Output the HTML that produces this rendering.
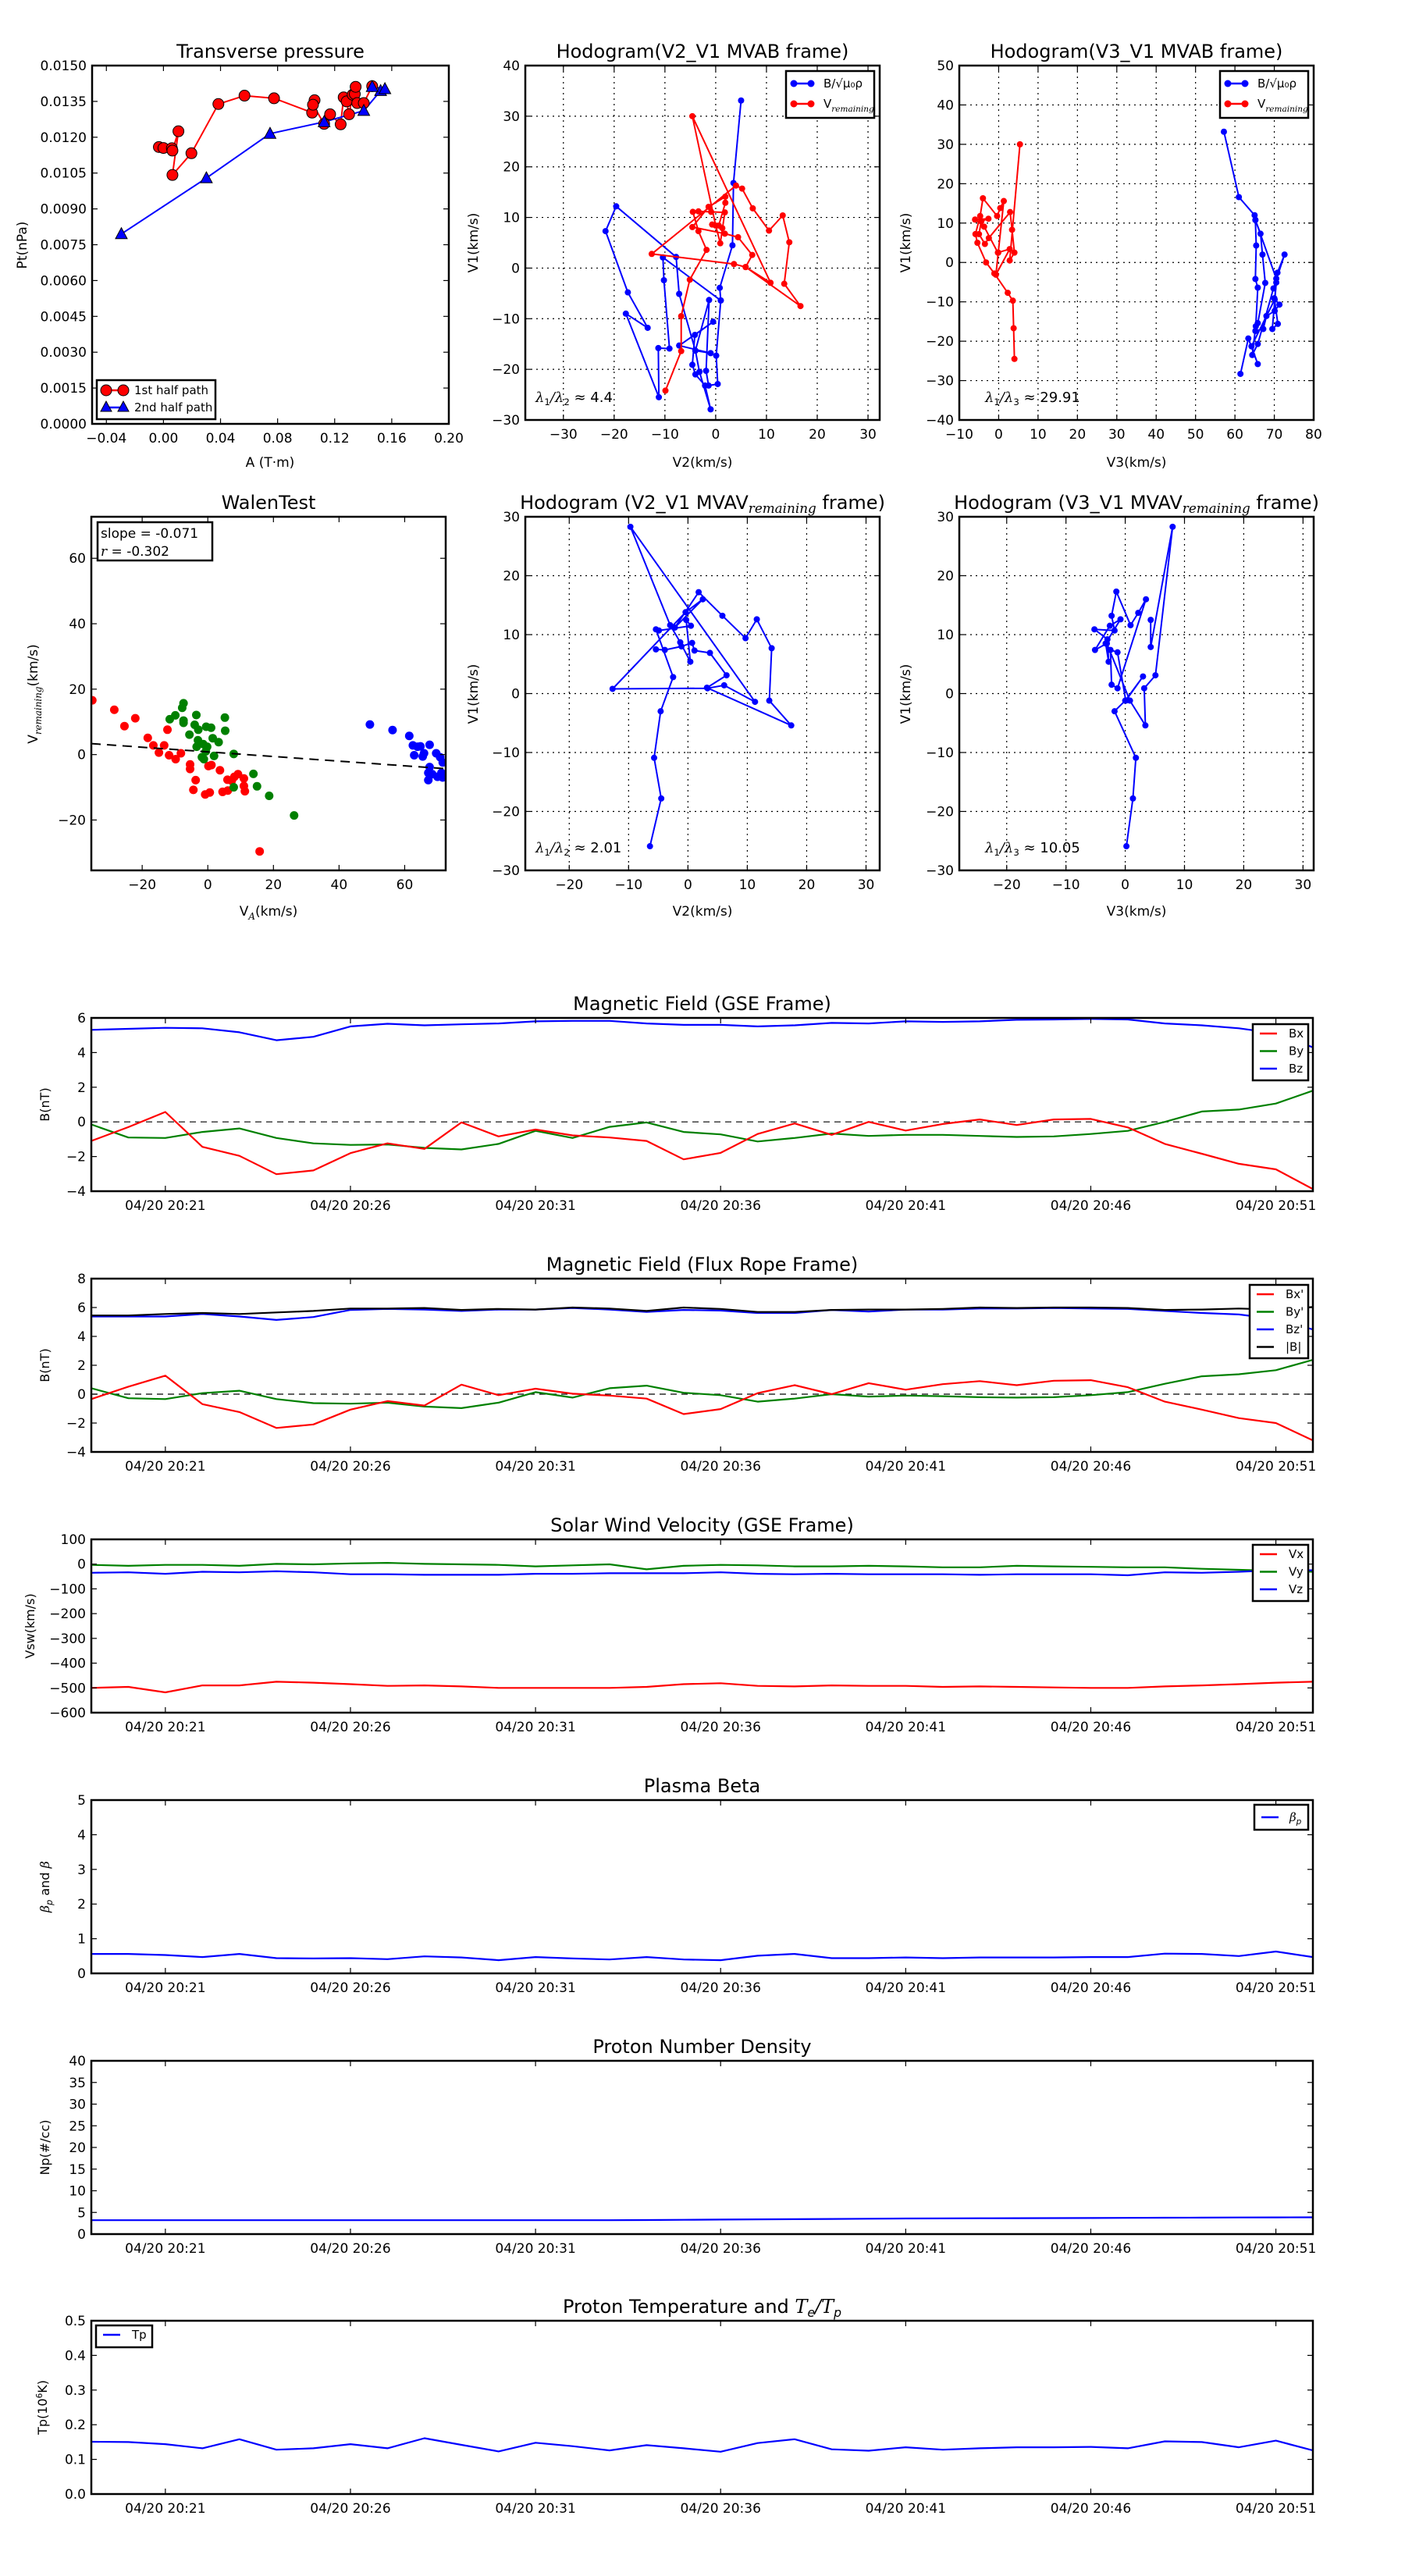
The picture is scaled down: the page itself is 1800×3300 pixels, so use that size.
<!DOCTYPE html>
<html><head><meta charset="utf-8"><style>
html,body{margin:0;padding:0;background:#fff}
svg{display:block;font-family:"DejaVu Sans","Liberation Sans",sans-serif}
</style></head><body>
<svg id="fig" width="1800" height="3300" viewBox="0 0 1800 3300" xmlns="http://www.w3.org/2000/svg"></svg>
<script>
// ---------- DATA ----------
const tpA1=[-0.0032,0.0,0.0059,0.0063,0.0105,0.0063,0.0196,0.0385,0.0568,0.0775,0.1042,0.1059,0.1048,0.1126,0.1168,0.1242,0.1263,0.1284,0.1301,0.1326,0.1341,0.1347,0.1358,0.1404,0.1463];
const tpP1=[0.01159,0.01155,0.01154,0.01144,0.01225,0.01042,0.01133,0.01339,0.01374,0.01363,0.01303,0.01355,0.01336,0.01256,0.01296,0.01254,0.01367,0.0135,0.01296,0.01378,0.01381,0.01411,0.01343,0.01343,0.01414];
const tpA2=[-0.0295,0.0301,0.0747,0.1126,0.1404,0.1522,0.1552,0.1463];
const tpP2=[0.00795,0.01029,0.01215,0.01264,0.01311,0.01394,0.01402,0.01411];

const h1BV2=[5.0,3.5,3.3,0.8,1.0,0.1,0.4,-1.4,-1.9,-1.3,-4.0,-1.0,-7.2,-0.5,-4.1,-4.6,-4.0,-2.1,-1.0,-3.2,-4.0,-7.2,-7.8,-19.6,-21.7,-17.3,-13.4,-17.7,-11.2,-11.3,-9.1,-10.2,-10.4,1.0];
const h1BV1=[33.1,16.8,4.5,-3.9,-6.4,-17.3,-22.9,-23.2,-20.3,-6.3,-16.3,-16.8,-15.3,-10.6,-13.2,-19.1,-21.0,-23.2,-27.9,-20.5,-16.3,-5.1,2.2,12.2,7.3,-4.8,-11.8,-9.0,-25.5,-15.8,-15.9,-2.4,2.1,-6.4];
const h1VV2=[-9.9,-6.8,-6.8,-5.1,-1.8,-3.4,-4.5,-3.4,-0.9,1.8,0.9,0,-4.6,10.8,5.9,3.6,-12.6,4.0,5.2,7.3,10.5,13.2,14.5,13.5,16.7,5.9,7.2,4.4,1.8,-4.6,-1.4,1.9,1.9,0.6,1.3,-0.7];
const h1VV1=[-24.2,-16.4,-9.5,-2.3,3.6,7.3,11.1,11.2,11.1,11.0,4.9,8.4,30.0,-2.9,0.2,0.8,2.8,16.3,15.7,11.8,7.4,10.4,5.1,-3.1,-7.5,0.2,2.6,6.1,6.8,8.1,12.1,14.1,12.9,8.4,7.9,8.6];

const h3BV3=[57.2,61.0,65.0,65.2,66.5,67.0,67.7,65.8,65.2,67.2,68.0,70.1,71.3,70.0,70.9,69.5,70.5,70.8,72.6,69.8,65.8,64.4,65.3,65.8,65.2,65.4,65.2,70.5,70.1,64.2,65.8,63.4,61.4];
const h3BV1=[33.2,16.6,12.0,10.8,7.3,2.0,-5.2,-15.4,-17.4,-16.9,-13.6,-12.3,-10.7,-9.1,-15.6,-16.9,-5.1,-2.6,2.0,-6.6,-20.7,-23.5,-16.2,-6.4,-4.2,4.3,10.8,-4.1,-9.4,-21.3,-25.8,-19.3,-28.3];
const h3VV3=[4.0,3.8,3.6,2.3,-1.1,-3.2,-5.4,-5.9,-4.7,-4.0,-0.4,0.4,1.3,-0.1,-0.7,2.8,-0.2,-3.7,-6.0,-2.6,-4.4,-5.0,-3.5,-2.5,2.9,3.4,4.0,2.8,5.4];
const h3VV1=[-24.5,-16.7,-9.7,-7.7,-2.8,0,5.0,7.2,11.8,16.3,11.8,13.8,15.6,2.5,-3.1,3.4,2.5,9.1,10.9,11.1,10.5,7.2,4.7,6.2,12.8,8.3,2.5,0.5,30.0];

const wRedX=[-35.2,-28.5,-25.4,-22.1,-18.3,-16.6,-14.9,-13.3,-12.3,-11.8,-9.8,-8.2,-5.4,-5.4,-3.7,-4.4,-0.8,0.6,0.2,1.1,3.7,4.5,6.1,6.0,8.1,9.2,11.0,11.0,11.3,15.8,7.3];
const wRedY=[16.6,13.7,8.7,11.1,5.1,2.8,0.6,2.8,7.6,-0.2,-1.4,0.4,-3.0,-4.4,-7.8,-10.8,-12.2,-11.6,-3.5,-3.2,-4.8,-11.4,-11.0,-7.7,-6.8,-6.0,-7.3,-9.6,-11.2,-29.6,-8.0];
const wGreenX=[-7.4,-7.8,-9.9,-11.6,-7.4,-7.4,-3.5,-4.0,-2.9,-5.6,-0.5,1.0,5.2,5.3,1.5,3.3,-3.0,-3.4,-1.4,-0.2,-0.6,-1.8,-1.2,1.9,7.9,13.9,7.9,15.0,18.7,26.3];
const wGreenY=[15.7,14.3,12.0,10.8,10.4,9.7,12.1,9.1,7.6,6.1,8.5,8.2,11.3,7.3,5.0,3.8,4.4,2.4,3.2,2.4,1.0,-0.8,-1.4,-0.4,0.2,-5.9,-10.0,-9.7,-12.6,-18.6];
const wBlueX=[49.4,56.3,61.4,62.5,64.8,67.6,62.9,65.5,69.6,70.8,71.6,67.6,67.2,67.2,70.0,71.6,71.2,68.4,65.9,63.9];
const wBlueY=[9.2,7.5,5.7,2.8,2.5,3.0,-0.2,-0.6,0.4,-0.8,-2.4,-3.8,-5.6,-7.8,-6.8,-7.0,-5.6,-6.0,0.4,2.4];
const wSlope=-0.071, wIntercept=0.83;

const h2V2=[-6.4,-4.5,-5.7,-4.6,-2.5,-5.4,-4.9,0.5,-0.3,0.4,-1.3,-3.0,-9.7,11.3,6.1,3.3,-12.7,-0.4,2.5,-2.2,1.8,5.8,9.7,11.6,14.1,13.7,17.4,3.2,6.5,3.7,1.1,0.7,-1.1,-3.9,-5.4];
const h2V1=[-25.9,-17.8,-10.9,-3.0,2.8,10.9,10.7,11.5,12.5,5.4,8.7,11.6,28.3,-1.4,1.4,0.9,0.8,13.8,16.0,11.2,17.2,13.2,9.4,12.6,7.7,-1.2,-5.4,1.0,3.1,6.9,7.3,8.6,8.0,7.4,7.5];
const h4V3=[4.3,4.3,8.0,5.1,3.2,3.4,0.8,-3.1,-5.1,-2.6,-0.8,-3.3,-2.8,-3.0,-5.2,-1.8,-2.3,-1.5,0.9,2.2,3.5,-1.3,-2.3,-2.5,-1.3,0.1,3.0,0,-1.8,1.8,1.3,0.2];
const h4V1=[12.5,7.9,28.3,3.1,0.9,-5.4,-1.2,8.5,7.4,11.5,12.6,8.5,5.4,9.2,10.9,10.7,13.2,17.3,11.6,13.7,16.0,0.9,1.5,7.4,7.0,-1.2,2.9,-1.2,-3.0,-10.9,-17.8,-25.9];

const times=[-2,-1,0,1,2,3,4,5,6,7,8,9,10,11,12,13,14,15,16,17,18,19,20,21,22,23,24,25,26,27,28,29,30,31];
const timeTickVals=[0,5,10,15,20,25,30];
const timeTickLabels=["04/20 20:21","04/20 20:26","04/20 20:31","04/20 20:36","04/20 20:41","04/20 20:46","04/20 20:51"];

const bxGse=[-1.1,-0.3,0.57,-1.44,-1.96,-3.02,-2.8,-1.8,-1.24,-1.56,-0.03,-0.84,-0.44,-0.78,-0.9,-1.1,-2.16,-1.79,-0.7,-0.09,-0.75,0,-0.5,-0.12,0.14,-0.18,0.14,0.17,-0.32,-1.27,-1.84,-2.42,-2.74,-3.88];
const byGse=[-0.15,-0.9,-0.93,-0.58,-0.38,-0.93,-1.24,-1.33,-1.3,-1.5,-1.59,-1.27,-0.52,-0.93,-0.29,-0.03,-0.58,-0.72,-1.13,-0.93,-0.67,-0.81,-0.75,-0.75,-0.81,-0.87,-0.84,-0.7,-0.52,0,0.6,0.71,1.06,1.8];
const bzGse=[5.31,5.37,5.43,5.4,5.17,4.71,4.91,5.51,5.66,5.57,5.63,5.68,5.8,5.83,5.83,5.68,5.6,5.6,5.51,5.57,5.71,5.68,5.8,5.77,5.8,5.89,5.91,5.94,5.91,5.68,5.57,5.4,5.11,4.3];
const bxFr=[-0.34,0.52,1.28,-0.69,-1.24,-2.34,-2.1,-1.07,-0.48,-0.79,0.66,-0.07,0.38,0.03,-0.1,-0.31,-1.38,-1.03,0.07,0.62,0,0.76,0.31,0.69,0.9,0.62,0.93,0.97,0.48,-0.52,-1.07,-1.66,-2,-3.2];
const byFr=[0.41,-0.28,-0.34,0.07,0.24,-0.34,-0.62,-0.66,-0.59,-0.86,-0.97,-0.59,0.14,-0.24,0.41,0.59,0.1,-0.07,-0.52,-0.31,0,-0.17,-0.1,-0.14,-0.21,-0.24,-0.21,-0.07,0.14,0.72,1.24,1.38,1.66,2.38];
const bzFr=[5.38,5.38,5.38,5.55,5.38,5.14,5.34,5.83,5.9,5.86,5.76,5.86,5.86,5.97,5.86,5.69,5.83,5.79,5.62,5.62,5.83,5.72,5.86,5.86,5.93,5.93,5.97,5.93,5.9,5.76,5.62,5.52,5.2,4.48];
const bMag=[5.45,5.45,5.55,5.62,5.55,5.66,5.76,5.93,5.93,5.97,5.83,5.9,5.86,6.0,5.93,5.76,6.0,5.9,5.69,5.69,5.83,5.86,5.86,5.9,6,5.97,6,6,5.97,5.83,5.86,5.93,5.86,6.03];
const vx=[-500,-496,-518,-490,-490,-475,-479,-485,-492,-490,-494,-500,-500,-500,-500,-496,-485,-481,-492,-494,-490,-492,-492,-496,-494,-496,-498,-500,-500,-494,-490,-485,-479,-475];
const vy=[-3,-7,-3,-3,-7,1,-1,3,5,1,-1,-3,-9,-5,-1,-21,-7,-3,-5,-9,-9,-7,-9,-13,-13,-7,-9,-11,-13,-13,-19,-23,-27,-31];
const vz=[-35,-33,-39,-31,-33,-29,-33,-41,-41,-43,-43,-43,-39,-39,-37,-37,-37,-33,-39,-41,-39,-41,-41,-41,-43,-41,-41,-41,-45,-33,-35,-31,-25,-25];
const betaP=[0.56,0.56,0.53,0.47,0.56,0.44,0.43,0.44,0.41,0.49,0.46,0.38,0.47,0.43,0.40,0.47,0.40,0.38,0.51,0.56,0.44,0.44,0.46,0.44,0.46,0.46,0.46,0.47,0.47,0.57,0.56,0.5,0.63,0.47];
const np=[3.2,3.2,3.2,3.2,3.2,3.2,3.2,3.2,3.2,3.2,3.2,3.2,3.2,3.2,3.2,3.25,3.3,3.35,3.4,3.45,3.5,3.55,3.6,3.62,3.65,3.68,3.7,3.72,3.75,3.78,3.8,3.83,3.85,3.88];
const tp=[0.151,0.150,0.144,0.132,0.158,0.128,0.132,0.144,0.132,0.161,0.142,0.123,0.148,0.138,0.126,0.141,0.132,0.122,0.147,0.158,0.129,0.125,0.135,0.128,0.132,0.135,0.135,0.136,0.132,0.152,0.150,0.135,0.154,0.126];

// ---------- HELPERS ----------
const NS="http://www.w3.org/2000/svg";
const fig=document.getElementById('fig');
const TICK=17, TITLE=24, ALAB=17, LEG=15;
function mk(tag,attrs,parent){const e=document.createElementNS(NS,tag);for(const k in attrs)e.setAttribute(k,attrs[k]);(parent||fig).appendChild(e);return e;}
function lin(d0,d1,r0,r1){return v=>r0+(v-d0)*(r1-r0)/(d1-d0);}
function txt(parent,x,y,s,size,anchor,name){const t=mk('text',{x:x,y:y,'font-size':size,'text-anchor':anchor||'middle',fill:'#000'},parent);t.textContent=s;


return t;}
function ticksFrom(a,b,s){const r=[];for(let v=a;v<=b+1e-9;v+=s)r.push(+v.toFixed(6));return r;}
function fmtNum(v){return v<0?'\u2212'+Math.abs(v):String(v);}

function axes(name,L,R,T,B,xd,yd,xt,yt,opt){
 opt=opt||{};
 const g=mk('g',{},fig);
 
 
 const sx=lin(xd[0],xd[1],L,R), sy=lin(yd[0],yd[1],B,T);
 const clipId='clip-'+name;
 const cp=mk('clipPath',{id:clipId},g);mk('rect',{x:L,y:T,width:R-L,height:B-T},cp);
 const plot=mk('g',{'clip-path':'url(#'+clipId+')'},g);
 
 
 if(opt.grid){
  xt.forEach(v=>{const l=mk('line',{x1:sx(v),x2:sx(v),y1:T,y2:B,stroke:'#000','stroke-width':1.2,'stroke-dasharray':'2,5'},plot);
  
  });
  yt.forEach(v=>{const l=mk('line',{x1:L,x2:R,y1:sy(v),y2:sy(v),stroke:'#000','stroke-width':1.2,'stroke-dasharray':'2,5'},plot);
  
  });
 }
 const xl=opt.xLabels||xt.map(v=>opt.xfmt?opt.xfmt(v):fmtNum(v));
 xt.forEach((v,i)=>{const x=sx(v);
  mk('line',{x1:x,x2:x,y1:B,y2:B-7,stroke:'#000','stroke-width':1.2},g);
  mk('line',{x1:x,x2:x,y1:T,y2:T+7,stroke:'#000','stroke-width':1.2},g);
  txt(g,x,B+24,xl[i],TICK,'middle','x-tick-label');});
 const yl=yt.map(v=>opt.yfmt?opt.yfmt(v):fmtNum(v));
 yt.forEach((v,i)=>{const y=sy(v);
  mk('line',{x1:L,x2:L+7,y1:y,y2:y,stroke:'#000','stroke-width':1.2},g);
  mk('line',{x1:R,x2:R-7,y1:y,y2:y,stroke:'#000','stroke-width':1.2},g);
  txt(g,L-7,y+6,yl[i],TICK,'end','y-tick-label');});
 const fr=mk('rect',{x:L,y:T,width:R-L,height:B-T,fill:'none',stroke:'#000','stroke-width':2.5},g);
 
 
 return {g,plot,sx,sy,L,R,T,B};
}
function polyline(ax,xs,ys,color,name,w){
 const pts=xs.map((x,i)=>ax.sx(x).toFixed(1)+','+ax.sy(ys[i]).toFixed(1)).join(' ');
 const p=mk('polyline',{points:pts,fill:'none',stroke:color,'stroke-width':w||2,'stroke-linejoin':'round'},ax.plot);
 
 
 return p;
}
function dots(ax,xs,ys,color,r,name,edge){
 xs.forEach((x,i)=>{const c=mk('circle',{cx:ax.sx(x),cy:ax.sy(ys[i]),r:r,fill:color,stroke:edge||'none','stroke-width':1},ax.plot);
 
 });
}
function tris(ax,xs,ys,color,name){
 xs.forEach((x,i)=>{const cx=ax.sx(x),cy=ax.sy(ys[i]);
 const p=mk('polygon',{points:`${cx},${cy-8} ${cx-7.5},${cy+6} ${cx+7.5},${cy+6}`,fill:color,stroke:'#000','stroke-width':1},ax.plot);
 
 });
}
function title(ax,s,name){return txt(fig,(ax.L+ax.R)/2,ax.T-10,s,TITLE,'middle',name||'chart-title');}
function ylab(x,y,s,name,size){const t=txt(fig,x,y,s,size||16,'middle',name||'y-axis-title');t.setAttribute('transform',`rotate(-90 ${x} ${y})`);return t;}
function legendBox(x,y,w,h,name){const r=mk('rect',{x:x,y:y,width:w,height:h,fill:'#fff',stroke:'#000','stroke-width':2.5},fig);
 
 }
function legendLine(x1,x2,y,color,label,tx,name,marker){
 const l=mk('line',{x1:x1,x2:x2,y1:y,y2:y,stroke:color,'stroke-width':2.5},fig);
 
 
 if(marker){[x1,x2].forEach(xx=>{const c=mk('circle',{cx:xx,cy:y,r:marker,fill:color},fig);
  
  });}
 const t=txt(fig,tx,y+5,label,LEG,'start',name+'-label');return t;
}
function mathSub(t,main,sub,italicMain){
 const a=mk('tspan',{},t);a.textContent=main;if(italicMain){a.setAttribute('font-style','italic');a.setAttribute('font-family','DejaVu Serif, serif');}
 const b=mk('tspan',{'font-size':'0.7em','font-style':'italic','font-family':'DejaVu Serif, serif',dy:5},t);b.textContent=sub;
 const c=mk('tspan',{dy:-5},t);c.textContent='';return c;
}

// ---------- ROW 1 ----------
{const ax=axes('transverse-pressure-chart',118,575,84,543,[-0.05,0.20],[0,0.015],ticksFrom(-0.04,0.20,0.04),ticksFrom(0,0.015,0.0015),
 {xfmt:v=>(v<0?'\u2212':'')+Math.abs(v).toFixed(2),yfmt:v=>v.toFixed(4)});
 title(ax,'Transverse pressure','transverse-pressure-title');
 polyline(ax,tpA1,tpP1,'#f00','first-half-path-line',2);
 polyline(ax,tpA2,tpP2,'#00f','second-half-path-line',2);
 dots(ax,tpA1,tpP1,'#f00',7,'first-half-point','#000');
 tris(ax,tpA2,tpP2,'#00f','second-half-point');
 txt(fig,346,598,'A (T\u00b7m)',ALAB,'middle','x-axis-title');
 ylab(34,314,'Pt(nPa)','y-axis-title',ALAB);
 legendBox(124,487,152,50,'legend');
 legendLine(136,158,500,'#f00','1st half path',172,'legend-1st-half',7);
 legendLine(136,158,522,'#00f','2nd half path',172,'legend-2nd-half');
 [136,158].forEach(xx=>{const p=mk('polygon',{points:`${xx},514 ${xx-7},527 ${xx+7},527`,fill:'#00f',stroke:'#000'},fig);
  
  });
 [136,158].forEach(xx=>{const c=mk('circle',{cx:xx,cy:500,r:7,fill:'#f00',stroke:'#000'},fig);
  
  });
}
function hodoLegend(x,name){
 legendBox(x,91,113,60,name);
 legendLine(x+10,x+32,107,'#00f','B/\u221a\u03bc\u2080\u03c1',x+48,name+'-b',4.5);
 const t2=legendLine(x+10,x+32,133,'#f00','',x+48,name+'-v',4.5);
 mathSub(t2,'V','remaining');
}
function lam(x,y,n,val,name){const t=txt(fig,x,y,'',18,'start',name);
 const a=mk('tspan',{'font-style':'italic','font-family':'DejaVu Serif, serif'},t);a.textContent='\u03bb';
 const b=mk('tspan',{'font-size':'0.65em',dy:4},t);b.textContent='1';
 const c=mk('tspan',{dy:-4,'font-style':'italic','font-family':'DejaVu Serif, serif'},t);c.textContent='/\u03bb';
 const d=mk('tspan',{'font-size':'0.65em',dy:4},t);d.textContent=n;
 const e=mk('tspan',{dy:-4},t);e.textContent=' \u2248 '+val;}
{const ax=axes('hodogram-v2-v1-mvab',673,1127,84,538,[-37.5,32.3],[-30,40],ticksFrom(-30,30,10),ticksFrom(-30,40,10),{grid:true});
 title(ax,'Hodogram(V2_V1 MVAB frame)','hodogram-v2-v1-mvab-title');
 polyline(ax,h1BV2,h1BV1,'#00f','b-alfven-path',2);dots(ax,h1BV2,h1BV1,'#00f',4,'b-alfven-point');
 polyline(ax,h1VV2,h1VV1,'#f00','v-remaining-path',2);dots(ax,h1VV2,h1VV1,'#f00',4,'v-remaining-point');
 txt(fig,900,598,'V2(km/s)',ALAB,'middle','x-axis-title');ylab(612,311,'V1(km/s)','y-axis-title',ALAB);
 hodoLegend(1007,'hodogram-1-legend');lam(686,515,'2','4.4','eigenvalue-ratio');}
{const ax=axes('hodogram-v3-v1-mvab',1229,1683,84,538,[-10,80],[-40,50],ticksFrom(-10,80,10),ticksFrom(-40,50,10),{grid:true});
 title(ax,'Hodogram(V3_V1 MVAB frame)','hodogram-v3-v1-mvab-title');
 polyline(ax,h3BV3,h3BV1,'#00f','b-alfven-path',2);dots(ax,h3BV3,h3BV1,'#00f',4,'b-alfven-point');
 polyline(ax,h3VV3,h3VV1,'#f00','v-remaining-path',2);dots(ax,h3VV3,h3VV1,'#f00',4,'v-remaining-point');
 txt(fig,1456,598,'V3(km/s)',ALAB,'middle','x-axis-title');ylab(1166,311,'V1(km/s)','y-axis-title',ALAB);
 hodoLegend(1563,'hodogram-2-legend');lam(1262,515,'3','29.91','eigenvalue-ratio');}

// ---------- ROW 2 ----------
{const ax=axes('walen-test-chart',117,571,662,1115,[-35.5,72.5],[-35.4,72.7],[-20,0,20,40,60],[-20,0,20,40,60]);
 title(ax,'WalenTest','walen-test-title');
 dots(ax,wRedX,wRedY,'#f00',5.5,'walen-red-point');
 dots(ax,wGreenX,wGreenY,'#008000',5.5,'walen-green-point');
 dots(ax,wBlueX,wBlueY,'#00f',5.5,'walen-blue-point');
 const fx=[-35.5,72.5];
 const fl=mk('line',{x1:ax.sx(fx[0]),y1:ax.sy(wSlope*fx[0]+wIntercept),x2:ax.sx(fx[1]),y2:ax.sy(wSlope*fx[1]+wIntercept),stroke:'#000','stroke-width':2,'stroke-dasharray':'12,8'},ax.plot);
 
 
 legendBox(125,669,147,49,'stats-box');
 txt(fig,129,689,'slope = -0.071',ALAB,'start','slope-text');
 const rt=txt(fig,129,712,'',ALAB,'start','r-text');const ri=mk('tspan',{'font-style':'italic','font-family':'DejaVu Serif, serif'},rt);ri.textContent='r';const rr=mk('tspan',{},rt);rr.textContent=' = -0.302';
 const xl=txt(fig,344,1173,'',ALAB,'middle','x-axis-title');mathSub(xl,'V','A').textContent='(km/s)';
 const yl=ylab(48,889,'','y-axis-title',ALAB);mathSub(yl,'V','remaining').textContent='(km/s)';}
{const ax=axes('hodogram-v2-v1-mvav',673,1127,662,1115,[-27.4,32.3],[-30,30],ticksFrom(-20,30,10),ticksFrom(-30,30,10),{grid:true});
 const t=title(ax,'','hodogram-v2-v1-mvav-title');mathSub(t,'Hodogram (V2_V1 MVAV','remaining').textContent=' frame)';
 polyline(ax,h2V2,h2V1,'#00f','b-path',2);dots(ax,h2V2,h2V1,'#00f',4,'b-point');
 txt(fig,900,1173,'V2(km/s)',ALAB,'middle','x-axis-title');ylab(612,889,'V1(km/s)','y-axis-title',ALAB);
 lam(686,1092,'2','2.01','eigenvalue-ratio');}
{const ax=axes('hodogram-v3-v1-mvav',1229,1683,662,1115,[-28,31.8],[-30,30],ticksFrom(-20,30,10),ticksFrom(-30,30,10),{grid:true});
 const t=title(ax,'','hodogram-v3-v1-mvav-title');mathSub(t,'Hodogram (V3_V1 MVAV','remaining').textContent=' frame)';
 polyline(ax,h4V3,h4V1,'#00f','b-path',2);dots(ax,h4V3,h4V1,'#00f',4,'b-point');
 txt(fig,1456,1173,'V3(km/s)',ALAB,'middle','x-axis-title');ylab(1166,889,'V1(km/s)','y-axis-title',ALAB);
 lam(1262,1092,'3','10.05','eigenvalue-ratio');}

// ---------- TIME SERIES ----------
function tsPanel(name,T,yd,yt,ttl,ylabel,ylx,series,legend,opt){
 opt=opt||{};
 const ax=axes(name,117,1682,T,T+222,[-2,31],yd,timeTickVals,yt,{xLabels:timeTickLabels,yfmt:opt.yfmt});
 const t=title(ax,ttl,name+'-title');
 if(opt.zero){const z=mk('line',{x1:117,x2:1682,y1:ax.sy(0),y2:ax.sy(0),stroke:'#000','stroke-width':1.2,'stroke-dasharray':'8,6'},ax.plot);
  
  }
 series.forEach(s=>polyline(ax,times,s[0],s[1],s[2],2.2));
 if(legend){const [lx,ly,lw,lh,ents]=legend;legendBox(lx,ly,lw,lh,name+'-legend');
  ents.forEach((e,i)=>legendLine(lx+9,lx+31,ly+12+i*22.5,e[0],e[1],lx+46,name+'-legend-'+i));}
 const yl=ylab(ylx,T+111,ylabel,name+'-y-axis-title',16);
 return {ax,t,yl};
}
tsPanel('magnetic-field-gse',1304,[-4,6],ticksFrom(-4,6,2),'Magnetic Field (GSE Frame)','B(nT)',63,
 [[bzGse,'#00f','bz-line'],[byGse,'#008000','by-line'],[bxGse,'#f00','bx-line']],
 [1605,1312,71,72,[['#f00','Bx'],['#008000','By'],['#00f','Bz']]],{zero:true});
tsPanel('magnetic-field-flux-rope',1638,[-4,8],ticksFrom(-4,8,2),'Magnetic Field (Flux Rope Frame)','B(nT)',63,
 [[bzFr,'#00f','bz-prime-line'],[bMag,'#000','b-magnitude-line'],[byFr,'#008000','by-prime-line'],[bxFr,'#f00','bx-prime-line']],
 [1601,1646,75,94,[['#f00',"Bx'"],['#008000',"By'"],['#00f',"Bz'"],['#000','|B|']]],{zero:true});
tsPanel('solar-wind-velocity',1972,[-600,100],ticksFrom(-600,100,100),'Solar Wind Velocity (GSE Frame)','Vsw(km/s)',44,
 [[vx,'#f00','vx-line'],[vy,'#008000','vy-line'],[vz,'#00f','vz-line']],
 [1605,1979,71,72,[['#f00','Vx'],['#008000','Vy'],['#00f','Vz']]]);
{const p=tsPanel('plasma-beta',2306,[0,5],ticksFrom(0,5,1),'Plasma Beta','',63,[[betaP,'#00f','beta-p-line']],null);
 legendBox(1607,2312,69,32,'plasma-beta-legend');
 const lt=legendLine(1616,1638,2328,'#00f','',1652,'plasma-beta-legend-0');
 const a=mk('tspan',{'font-style':'italic','font-family':'DejaVu Serif, serif'},lt);a.textContent='\u03b2';const b=mk('tspan',{'font-size':'0.7em',dy:4,'font-style':'italic'},lt);b.textContent='p';
 const yl=p.yl;const s1=mk('tspan',{'font-style':'italic','font-family':'DejaVu Serif, serif'},yl);s1.textContent='\u03b2';
 const s2=mk('tspan',{'font-size':'0.7em',dy:4,'font-style':'italic'},yl);s2.textContent='p';
 const s3=mk('tspan',{dy:-4},yl);s3.textContent=' and ';
 const s4=mk('tspan',{'font-style':'italic','font-family':'DejaVu Serif, serif'},yl);s4.textContent='\u03b2';}
tsPanel('proton-number-density',2640,[0,40],ticksFrom(0,40,5),'Proton Number Density','Np(#/cc)',63,[[np,'#00f','density-line']],null);
{const p=tsPanel('proton-temperature',2973,[0,0.5],ticksFrom(0,0.5,0.1),'','',60,[[tp,'#00f','tp-line']],
 [123,2979,72,28,[['#00f','Tp']]],{yfmt:v=>v.toFixed(1)});
 p.t.textContent='Proton Temperature and ';
 const a=mk('tspan',{'font-style':'italic','font-family':'DejaVu Serif, serif'},p.t);a.textContent='T';
 const b=mk('tspan',{'font-size':'0.65em',dy:5,'font-style':'italic'},p.t);b.textContent='e';
 const c=mk('tspan',{dy:-5,'font-style':'italic','font-family':'DejaVu Serif, serif'},p.t);c.textContent='/T';
 const d=mk('tspan',{'font-size':'0.65em',dy:5,'font-style':'italic'},p.t);d.textContent='p';
 p.yl.textContent='Tp(10';const e=mk('tspan',{'font-size':'0.65em',dy:-6},p.yl);e.textContent='6';const f=mk('tspan',{dy:6},p.yl);f.textContent='K)';}
</script>
</body></html>
